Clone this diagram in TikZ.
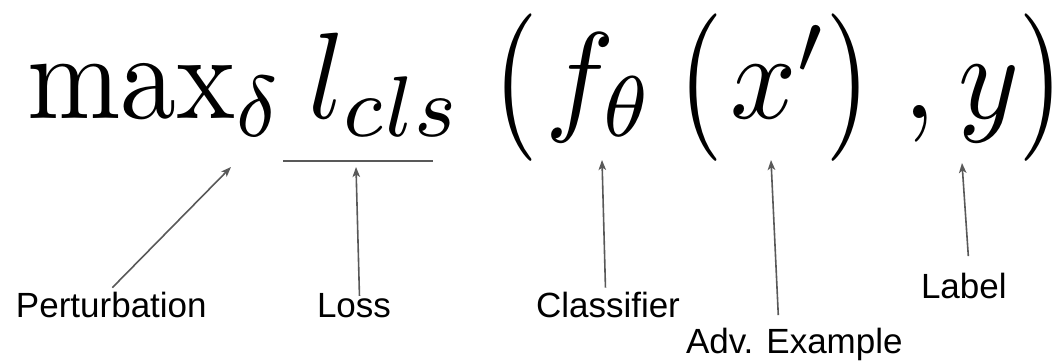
\documentclass[tikz,border=0pt]{standalone}
\usepackage{graphicx}
\usepackage{fontspec}
\newfontfamily\labelfont{Liberation Sans}
\usetikzlibrary{arrows.meta}
\definecolor{arrgray}{HTML}{595959}
\newcommand\bigmath[1]{\scalebox{11.6}[12.3]{$#1$}}
\newcommand\tallparen[1]{\bigmath{\scalebox{1}[1.2]{$#1$}}}
\tikzset{
  arr/.style={draw=arrgray, line width=1.6pt, -{Stealth[length=10pt,width=7.5pt,inset=2.5pt]}},
  lab/.style={inner sep=0pt, outer sep=4pt, font=\labelfont\fontsize{35}{42}\selectfont},
  mth/.style={anchor=base west, inner sep=0pt},
}
\begin{document}
\begin{tikzpicture}[x=1pt,y=-1pt]
\useasboundingbox (0,0) rectangle (1062,360);
% formula pieces
\node[mth] (fmax) at (27,118) {\scalebox{11.2}[12.3]{$\max_\delta$}};
\node[mth] (floss) at (308,118) {\bigmath{l_{cls}}};
\node[mth] (fp1) at (493,124) {\tallparen{(}};
\node[mth] (ff) at (545,118) {\bigmath{f_\theta}};
\node[mth] (fp2) at (678,124) {\tallparen{(}};
\node[mth] (fx) at (730,118) {\bigmath{x'}};
\node[mth] (fp3) at (825,124) {\tallparen{)}};
\node[mth] (fcomma) at (903,118) {\bigmath{,}};
\node[mth] (fy) at (958,118) {\bigmath{y}};
\node[mth] (fp4) at (1018,124) {\tallparen{)}};
% tips
\coordinate (tdelta) at (231,167);
\coordinate (uleft) at (283,161);
\coordinate (uright) at (433,161);
\coordinate (tloss) at (356,167);
\coordinate (ttheta) at (602,160);
\coordinate (tx) at (771,160);
\coordinate (ty) at (962,163);
% labels
\node[lab, anchor=base west] (pert) at (12,317) {Perturbation};
\node[lab, anchor=base west] (loss) at (313,317) {Loss};
\node[lab, anchor=base west] (cls) at (532,317) {Classifier};
\node[lab, anchor=base west] (adv) at (682,353) {Adv. Example};
\node[lab, anchor=base west] (lbl) at (917,298) {Label};
% connectors
\draw[draw=arrgray, line width=1.6pt] (uleft) -- (uright);
\draw[arr] ([xshift=1pt]pert.north) -- (tdelta);
\draw[arr] ([xshift=5.5pt,yshift=-7pt]loss.north) -- (tloss);
\draw[arr] ([xshift=-2.5pt]cls.north) -- (ttheta);
\draw[arr] ([xshift=-16pt,yshift=8.5pt]adv.north) -- (tx);
\draw[arr] ([xshift=4.5pt,yshift=12.5pt]lbl.north) -- (ty);
\end{tikzpicture}
\end{document}
